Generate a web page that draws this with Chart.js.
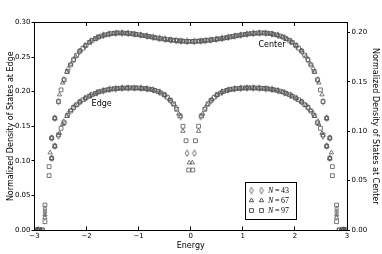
<!DOCTYPE html>
<html><head><meta charset="utf-8">
<script src="https://cdn.jsdelivr.net/npm/chart.js@4.4.1/dist/chart.umd.min.js"></script>
<style>html,body{margin:0;padding:0;background:#fff;}canvas{display:block;}</style>
</head><body>
<canvas id="c" width="382" height="254"></canvas>
<script>
// ---------- data ----------
const xTicks = [-3, -2, -1, 0, 1, 2, 3];
const yLeftTicks = [0, 0.05, 0.10, 0.15, 0.20, 0.25, 0.30];
const yRightTicks = [0, 0.05, 0.10, 0.15, 0.20];
const seriesLabels = ['43', '67', '97'];
const curveLabels = ['Center', 'Edge'];

const energy43 = [-2.93,-2.80,-2.67,-2.61,-2.54,-2.44,-2.35,-2.25,-2.14,-2.03,-1.92,-1.80,-1.68,-1.56,-1.44,-1.32,-1.20,-1.08,-0.96,-0.84,-0.72,-0.60,-0.49,-0.38,-0.28,-0.19,-0.07,
  0.07,0.19,0.28,0.38,0.49,0.60,0.72,0.84,0.96,1.08,1.20,1.32,1.44,1.56,1.68,1.80,1.92,2.03,2.14,2.25,2.35,2.44,2.54,2.61,2.67,2.80,2.93];
const edge43 = [0,0.026,0.1037,0.1212,0.1360,0.1565,0.1680,0.1772,0.1846,0.1902,0.1946,0.1985,0.2014,0.2033,0.2044,0.2050,0.2053,0.2053,0.2049,0.2041,0.2025,0.1995,0.1945,0.1865,0.1765,0.164,0.111,
  0.111,0.164,0.1765,0.1865,0.1945,0.1995,0.2025,0.2041,0.2049,0.2053,0.2053,0.2050,0.2044,0.2033,0.2014,0.1985,0.1946,0.1902,0.1846,0.1772,0.1680,0.1565,0.1360,0.1212,0.1037,0.026,0];
const center43 = [0,0.0210,0.0931,0.1131,0.1300,0.1520,0.1631,0.1723,0.1804,0.1864,0.1910,0.1945,0.1969,0.1984,0.1992,0.1993,0.1989,0.1982,0.1973,0.1962,0.1950,0.1939,0.1930,0.1923,0.1917,0.1912,0.1908,
  0.1908,0.1912,0.1917,0.1923,0.1930,0.1939,0.1950,0.1962,0.1973,0.1982,0.1989,0.1993,0.1992,0.1984,0.1969,0.1945,0.1910,0.1864,0.1804,0.1723,0.1631,0.1520,0.1300,0.1131,0.0931,0.0210,0];

const energy67 = [-2.96,-2.88,-2.80,-2.70,-2.67,-2.61,-2.52,-2.46,-2.38,-2.30,-2.21,-2.12,-2.03,-1.94,-1.85,-1.76,-1.67,-1.58,-1.49,-1.40,-1.31,-1.22,-1.13,-1.04,-0.95,-0.86,-0.77,-0.68,-0.59,-0.50,-0.41,-0.32,-0.23,-0.15,-0.03,
  0.03,0.15,0.23,0.32,0.41,0.50,0.59,0.68,0.77,0.86,0.95,1.04,1.13,1.22,1.31,1.40,1.49,1.58,1.67,1.76,1.85,1.94,2.03,2.12,2.21,2.30,2.38,2.46,2.52,2.61,2.67,2.70,2.80,2.88,2.96];
const edge67 = [0,0,0.018,null,0.1037,0.1212,0.1400,0.1530,0.1645,0.1730,0.1800,0.1857,0.1902,0.1939,0.1970,0.1996,0.2016,0.2031,0.2040,0.2046,0.2051,0.2053,0.2053,0.2052,0.2049,0.2043,0.2033,0.2016,0.1992,0.195,0.1888,0.181,0.168,0.143,0.0973,
  0.0973,0.143,0.168,0.181,0.1888,0.195,0.1992,0.2016,0.2033,0.2043,0.2049,0.2052,0.2053,0.2053,0.2051,0.2046,0.2040,0.2031,0.2016,0.1996,0.1970,0.1939,0.1902,0.1857,0.1800,0.1730,0.1645,0.1530,0.1400,0.1212,0.1037,null,0.018,0,0];
const center67 = [0,0,0.0154,0.0783,0.0931,0.1131,0.1370,0.1490,0.1598,0.1680,0.1755,0.1817,0.1864,0.1902,0.1932,0.1955,0.1971,0.1982,0.1990,0.1993,0.1993,0.1990,0.1986,0.1979,0.1972,0.1964,0.1955,0.1946,0.1938,0.1931,0.1925,0.1919,0.1914,0.1911,0.1908,
  0.1908,0.1911,0.1914,0.1919,0.1925,0.1931,0.1938,0.1946,0.1955,0.1964,0.1972,0.1979,0.1986,0.1990,0.1993,0.1993,0.1990,0.1982,0.1971,0.1955,0.1932,0.1902,0.1864,0.1817,0.1755,0.1680,0.1598,0.1490,0.1370,0.1131,0.0931,0.0783,0.0154,0,0];

const energy97 = [-2.97,-2.91,-2.85,-2.80,-2.72,-2.67,-2.61,-2.54,-2.49,-2.43,-2.37,-2.31,-2.25,-2.19,-2.13,-2.07,-2.01,-1.95,-1.89,-1.83,-1.77,-1.71,-1.65,-1.59,-1.53,-1.47,-1.41,-1.35,-1.29,-1.23,-1.17,-1.11,-1.05,-0.99,-0.93,-0.87,-0.81,-0.75,-0.69,-0.63,-0.57,-0.51,-0.45,-0.39,-0.33,-0.27,-0.21,-0.15,-0.09,-0.04,
  0.04,0.09,0.15,0.21,0.27,0.33,0.39,0.45,0.51,0.57,0.63,0.69,0.75,0.81,0.87,0.93,0.99,1.05,1.11,1.17,1.23,1.29,1.35,1.41,1.47,1.53,1.59,1.65,1.71,1.77,1.83,1.89,1.95,2.01,2.07,2.13,2.19,2.25,2.31,2.37,2.43,2.49,2.54,2.61,2.67,2.72,2.80,2.85,2.91,2.97];
const edge97 = [0,0,0,0.012,0.0786,0.1037,0.1212,0.1375,0.1470,0.1550,0.1655,0.1720,0.1772,0.1812,0.1851,0.1883,0.1910,0.1935,0.1956,0.1976,0.1995,0.2008,0.2020,0.2029,0.2036,0.2041,0.2046,0.2049,0.2051,0.2053,0.2053,0.2053,0.2052,0.2051,0.2048,0.2044,0.2038,0.2030,0.2018,0.2003,0.198,0.1955,0.192,0.1875,0.1825,0.1745,0.165,0.150,0.129,0.0867,
  0.0867,0.129,0.150,0.165,0.1745,0.1825,0.1875,0.192,0.1955,0.198,0.2003,0.2018,0.2030,0.2038,0.2044,0.2048,0.2051,0.2052,0.2053,0.2053,0.2053,0.2051,0.2049,0.2046,0.2041,0.2036,0.2029,0.2020,0.2008,0.1995,0.1976,0.1956,0.1935,0.1910,0.1883,0.1851,0.1812,0.1772,0.1720,0.1655,0.1550,0.1470,0.1375,0.1212,0.1037,0.0786,0.012,0,0,0];
const center97 = [0,0,0,0.0252,0.0641,0.0931,0.1131,0.1300,0.1418,0.1520,0.1605,0.1670,0.1723,0.1770,0.1810,0.1840,0.1870,0.1898,0.1920,0.1937,0.1952,0.1964,0.1974,0.1981,0.1987,0.1991,0.1993,0.1994,0.1993,0.1991,0.1988,0.1984,0.1980,0.1975,0.1970,0.1965,0.1959,0.1953,0.1947,0.1941,0.1936,0.1932,0.1927,0.1923,0.1920,0.1916,0.1913,0.1911,0.1909,0.1908,
  0.1908,0.1909,0.1911,0.1913,0.1916,0.1920,0.1923,0.1927,0.1932,0.1936,0.1941,0.1947,0.1953,0.1959,0.1965,0.1970,0.1975,0.1980,0.1984,0.1988,0.1991,0.1993,0.1994,0.1993,0.1991,0.1987,0.1981,0.1974,0.1964,0.1952,0.1937,0.1920,0.1898,0.1870,0.1840,0.1810,0.1770,0.1723,0.1670,0.1605,0.1520,0.1418,0.1300,0.1131,0.0931,0.0641,0.0252,0,0,0];

// ---------- styling ----------
const MARK = '#555555';
const FONT = 'DejaVu Sans';

function thinDiamond() {
  const c = document.createElement('canvas');
  c.width = 6; c.height = 8;
  const g = c.getContext('2d');
  g.strokeStyle = MARK; g.lineWidth = 0.8;
  g.beginPath();
  g.moveTo(3, 0.8); g.lineTo(4.9, 4); g.lineTo(3, 7.2); g.lineTo(1.1, 4); g.closePath();
  g.stroke();
  return c;
}
const diamondImg = thinDiamond();
const styles = [diamondImg, 'triangle', 'rect'];

function pts(xs, ys) {
  const out = [];
  for (let i = 0; i < xs.length; i++) if (ys[i] !== null) out.push({x: xs[i], y: ys[i]});
  return out;
}
const sets = [
  {e: energy43, edge: edge43, center: center43},
  {e: energy67, edge: edge67, center: center67},
  {e: energy97, edge: edge97, center: center97}
];
const datasets = [];
sets.forEach((s, i) => {
  const common = {showLine: false, pointStyle: styles[i], pointRadius: i === 1 ? 2.5 : 2.7, pointHoverRadius: 2.6,
    pointBorderWidth: 0.8, pointBorderColor: MARK, pointBackgroundColor: 'rgba(0,0,0,0)', borderColor: MARK, backgroundColor: 'rgba(0,0,0,0)'};
  datasets.push(Object.assign({label: 'Edge N=' + seriesLabels[i], data: pts(s.e, s.edge), yAxisID: 'y'}, common));
  datasets.push(Object.assign({label: 'Center N=' + seriesLabels[i], data: pts(s.e, s.center), yAxisID: 'y2'}, common));
});

const frameAndLegend = {
  id: 'frameAndLegend',
  afterDatasetsDraw(chart) {
    const ctx = chart.ctx, a = chart.chartArea;
    const xs = chart.scales.x, yl = chart.scales.y;
    ctx.save();
    ctx.strokeStyle = '#000'; ctx.lineWidth = 1;
    ctx.beginPath();
    const top = Math.round(a.top - 0.5) + 0.5;
    ctx.moveTo(a.left, top); ctx.lineTo(a.right, top); ctx.stroke();
    xTicks.forEach(v => {
      const px = Math.round(xs.getPixelForValue(v) - 0.5) + 0.5;
      ctx.beginPath();
      ctx.moveTo(px, a.bottom); ctx.lineTo(px, a.bottom - 3.5);
      ctx.moveTo(px, top); ctx.lineTo(px, top + 3.5);
      ctx.stroke();
    });
    ctx.fillStyle = '#000';
    ctx.font = '8px "' + FONT + '"';
    ctx.textAlign = 'center'; ctx.textBaseline = 'middle';
    ctx.fillText(curveLabels[0], xs.getPixelForValue(1.56), yl.getPixelForValue(0.268));
    ctx.fillText(curveLabels[1], xs.getPixelForValue(-1.71), yl.getPixelForValue(0.183));
    const bx = 245.5, by = 182.5, bw = 51, bh = 37;
    ctx.fillStyle = '#fff';
    ctx.fillRect(bx, by, bw, bh);
    ctx.strokeStyle = '#000'; ctx.lineWidth = 1;
    ctx.strokeRect(bx, by, bw, bh);
    const rowsY = [190.5, 200.5, 210.5];
    rowsY.forEach((ry, i) => {
      [251.5, 261.5].forEach(mx => {
        if (i === 0) {
          ctx.drawImage(diamondImg, mx - 3, ry - 4);
        } else {
          ctx.strokeStyle = MARK; ctx.fillStyle = 'rgba(0,0,0,0)';
          Chart.helpers.drawPoint(ctx, {pointStyle: styles[i], radius: i === 1 ? 2.5 : 2.7, borderWidth: 0.8, rotation: 0}, mx, ry);
        }
      });
      ctx.fillStyle = '#000';
      ctx.textAlign = 'left'; ctx.textBaseline = 'middle';
      ctx.font = 'italic 8px "Liberation Serif"';
      ctx.fillText('N', 268, ry);
      const w = ctx.measureText('N').width;
      ctx.font = '8px "Liberation Serif"';
      ctx.fillText('\u2009=\u2009' + seriesLabels[i], 268 + w, ry);
    });
    ctx.restore();
  }
};

const tickFont = {family: FONT, size: 7};
const titleFont = {family: FONT, size: 8};

new Chart(document.getElementById('c'), {
  type: 'scatter',
  data: {datasets},
  options: {
    responsive: false, animation: false, devicePixelRatio: 1,
    layout: {padding: {top: 22.5, left: 0, right: 0, bottom: 0}},
    plugins: {legend: {display: false}, tooltip: {enabled: false}},
    scales: {
      x: {
        type: 'linear', position: 'bottom', min: -3, max: 3,
        afterBuildTicks: s => { s.ticks = xTicks.map(v => ({value: v})); },
        afterFit: s => { s.height = 24; },
        grid: {display: false, drawTicks: false},
        border: {display: true, color: '#000', width: 1},
        ticks: {font: tickFont, color: '#000', padding: 2, maxRotation: 0, autoSkip: false,
          callback: v => v < 0 ? '\u2212' + (-v) : String(v)},
        title: {display: true, text: 'Energy', font: titleFont, color: '#000', padding: {top: 0, bottom: 3}}
      },
      y: {
        type: 'linear', position: 'left', min: 0, max: 0.3,
        afterBuildTicks: s => { s.ticks = yLeftTicks.map(v => ({value: v})); },
        afterFit: s => { s.width = 34.5; },
        grid: {display: true, drawOnChartArea: false, drawTicks: true, tickLength: 3, color: '#000', lineWidth: 1},
        border: {display: true, color: '#000', width: 1},
        ticks: {font: tickFont, color: '#000', padding: 1, autoSkip: false, callback: v => v.toFixed(2)},
        title: {display: true, text: 'Normalized Density of States at Edge', font: titleFont, color: '#000', padding: {top: 6, bottom: 0}}
      },
      y2: {
        type: 'linear', position: 'right', min: 0, max: 0.21,
        afterBuildTicks: s => { s.ticks = yRightTicks.map(v => ({value: v})); },
        afterFit: s => { s.width = 35; },
        grid: {display: true, drawOnChartArea: false, drawTicks: true, tickLength: 3, color: '#000', lineWidth: 1},
        border: {display: true, color: '#000', width: 1},
        ticks: {font: tickFont, color: '#000', padding: 1.5, autoSkip: false, callback: v => v.toFixed(2)},
        title: {display: true, text: 'Normalized Density of States at Center', font: titleFont, color: '#000', padding: {top: 2, bottom: 0}}
      }
    }
  },
  plugins: [frameAndLegend]
});
</script>
</body></html>
